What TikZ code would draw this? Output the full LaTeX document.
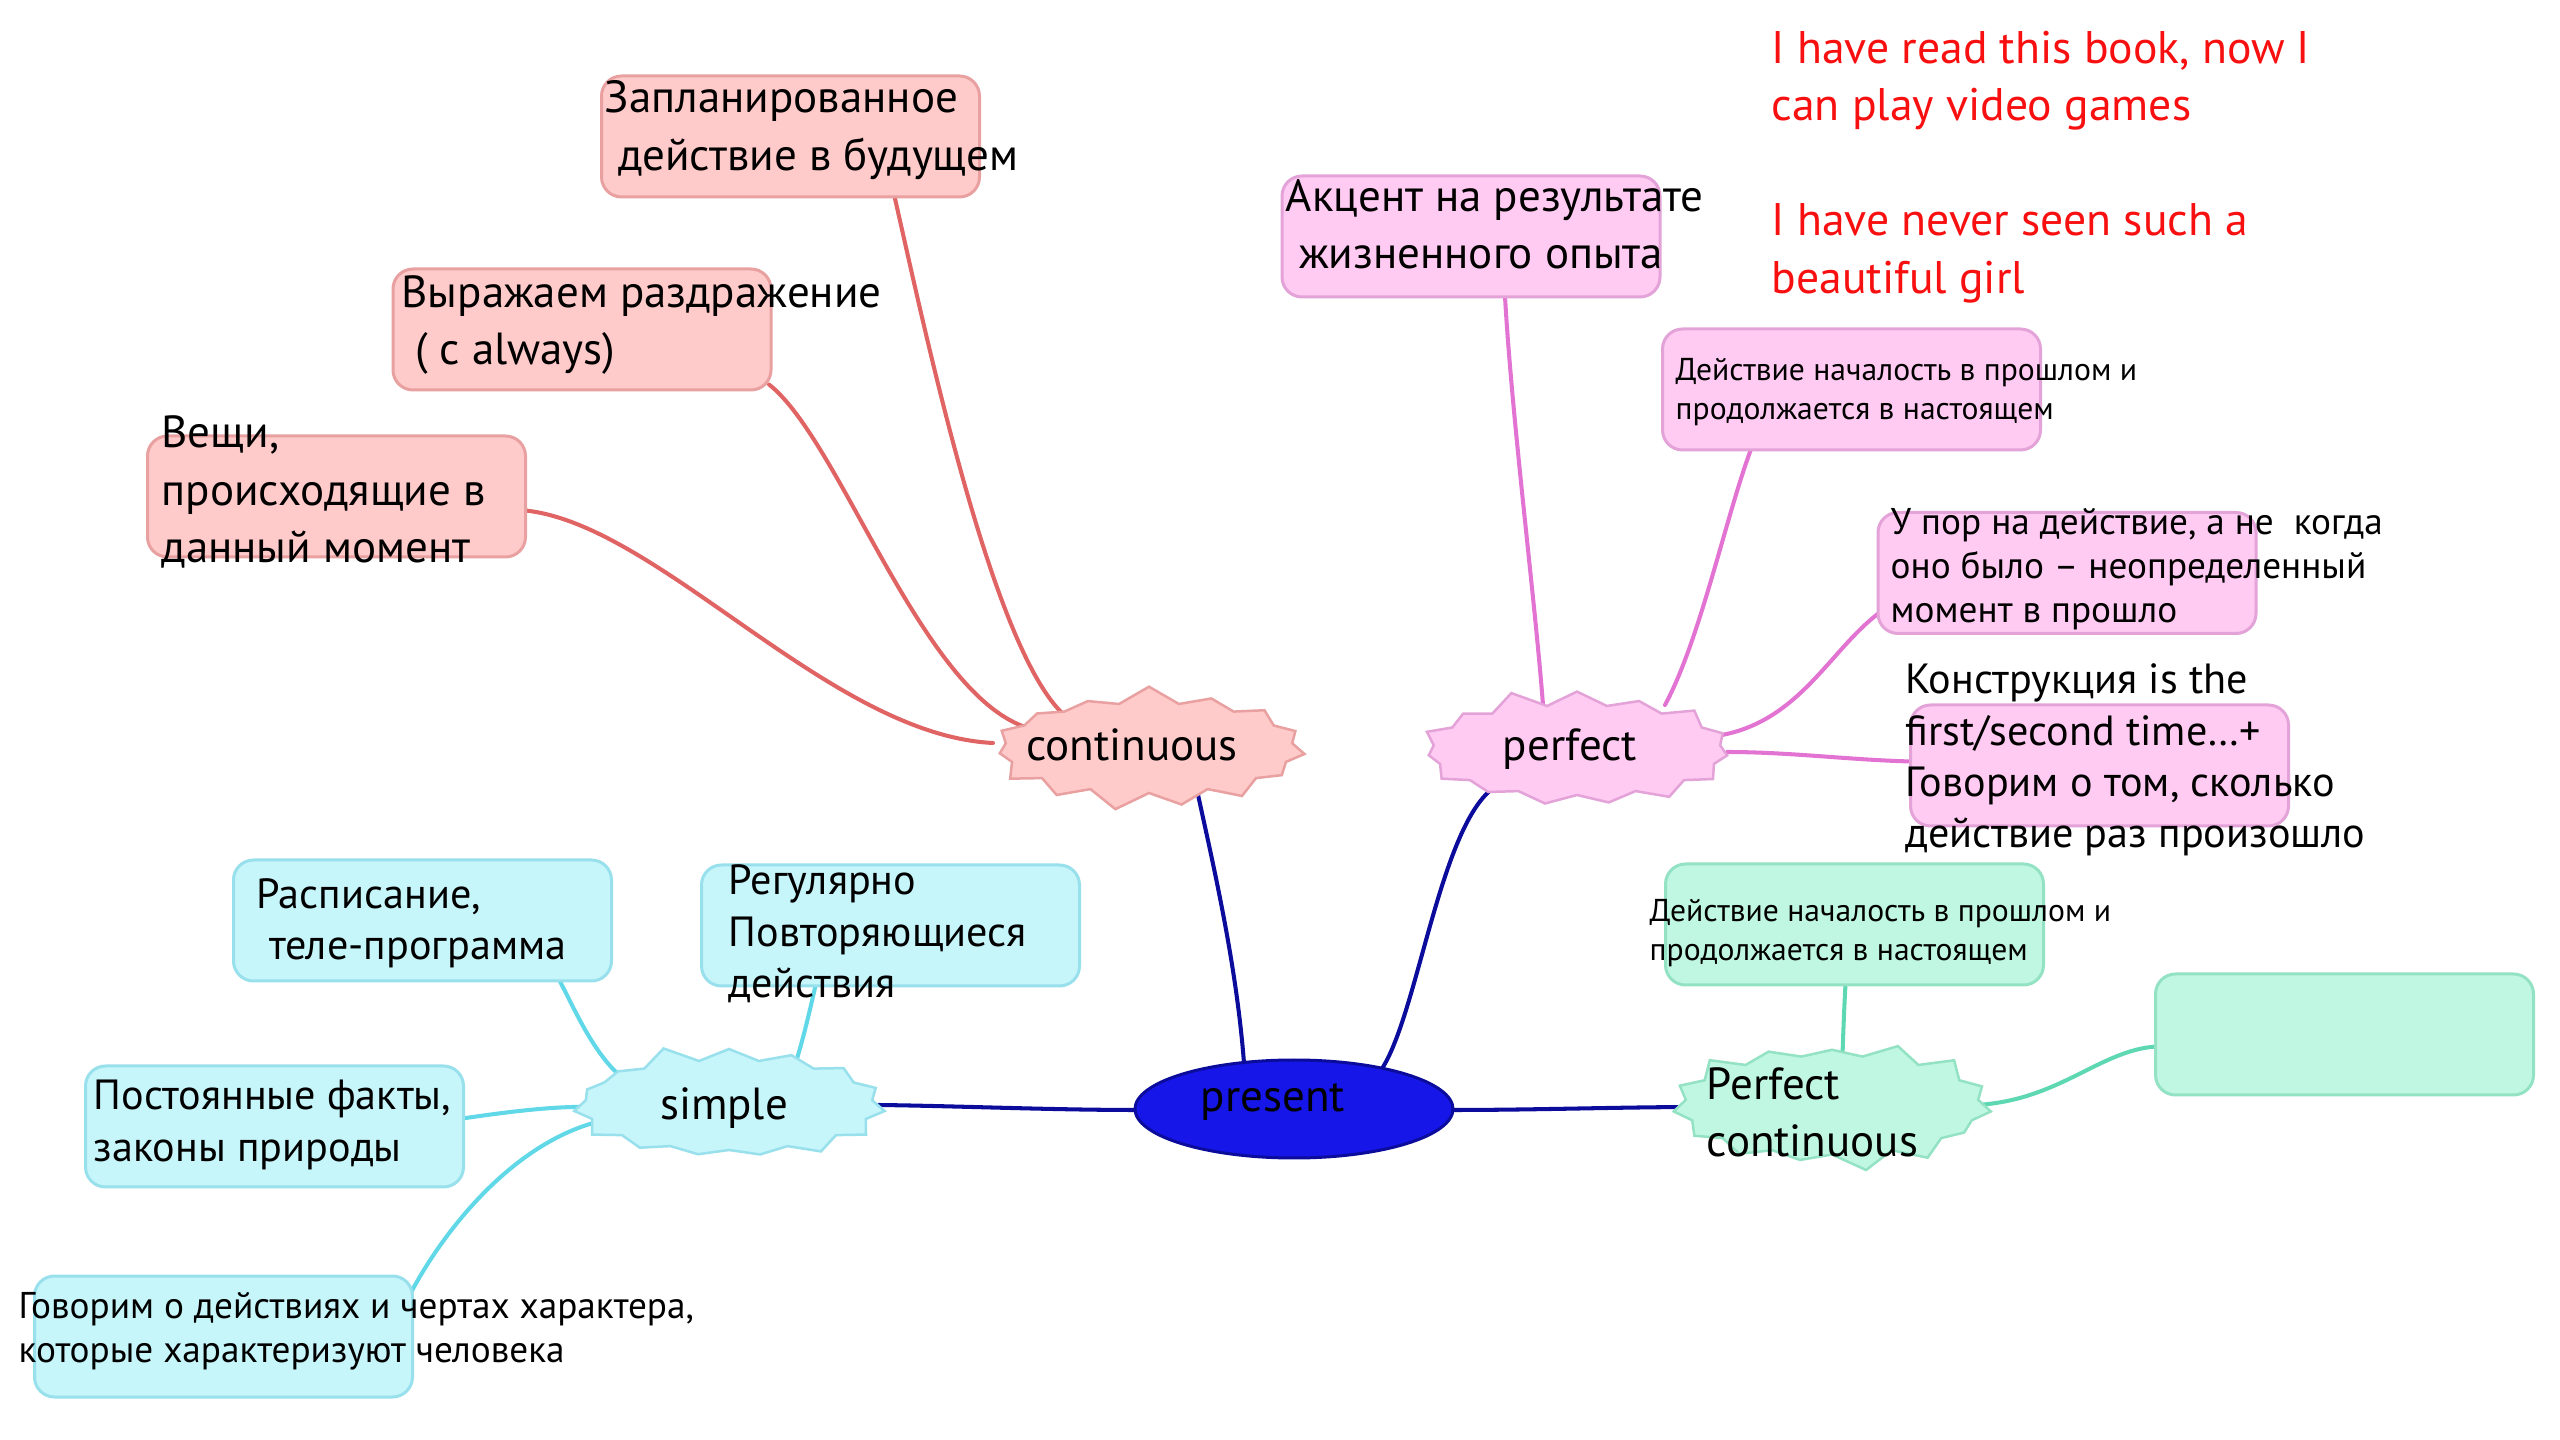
\documentclass[tikz,border=0pt]{standalone}
\usepackage{fontspec}
\setmainfont{PT Sans}
\usetikzlibrary{shapes.symbols,shapes.geometric,backgrounds,calc}
\definecolor{redfill}{HTML}{FFCACA}
\definecolor{redline}{HTML}{E8A0A0}
\definecolor{redconn}{HTML}{E06464}
\definecolor{pinkfill}{HTML}{FFCBF2}
\definecolor{pinkline}{HTML}{E3A2D8}
\definecolor{pinkconn}{HTML}{E273D2}
\definecolor{cyanfill}{HTML}{C6F5FA}
\definecolor{cyanline}{HTML}{98E0EC}
\definecolor{cyanconn}{HTML}{60D8E8}
\definecolor{greenfill}{HTML}{C0F7E2}
\definecolor{greenline}{HTML}{94E2C4}
\definecolor{greenconn}{HTML}{5ED8B2}
\definecolor{navy}{HTML}{0C0C9C}
\definecolor{presfill}{HTML}{1616E8}
\definecolor{redtext}{HTML}{F81010}
\newcommand\fBig{\fontsize{12.8}{16.3}\selectfont}
\newcommand\fMid{\fontsize{12}{14.6}\selectfont}
\newcommand\fSm{\fontsize{10.6}{12.6}\selectfont}
\newcommand\fXs{\fontsize{9}{11.1}\selectfont}
\begin{document}
\begin{tikzpicture}[x=0.1mm,y=-0.1mm,
  box/.style={draw,rounded corners=2mm,minimum width=37.8mm,minimum height=12.1mm,line width=0.3mm,inner sep=0pt},
  rbox/.style={box,fill=redfill,draw=redline},
  pbox/.style={box,fill=pinkfill,draw=pinkline},
  cbox/.style={box,fill=cyanfill,draw=cyanline},
  gbox/.style={box,fill=greenfill,draw=greenline},
  txt/.style={anchor=west,inner sep=0pt,align=left},
  burst/.style={starburst,starburst points=15,starburst point height=1.8mm,random starburst=7,
     minimum width=32.4mm,minimum height=12.6mm,inner sep=0pt,line width=0.25mm},
  conn/.style={line width=1.15pt,line cap=round}]
\useasboundingbox (0,0) rectangle (2560,1440);

% central
\node[ellipse,fill=presfill,draw=navy,line width=0.3mm,minimum width=31.8mm,minimum height=9.8mm,inner sep=0pt] (pres) at (1294,1109) {};
\node[font=\fBig,inner sep=0pt] (prest) at (1273,1102) {present};

% stars
\node[burst,fill=redfill,draw=redline] (cont) at (1149,748) {};
\node[font=\fBig,inner sep=0pt] (contt) at (1132,745) {continuous};
\node[burst,fill=pinkfill,draw=pinkline,random starburst=11] (perf) at (1577,750) {};
\node[font=\fBig,inner sep=0pt] (perft) at (1570,749) {perfect};
\node[burst,fill=cyanfill,draw=cyanline,random starburst=5] (simp) at (729,1105) {};
\node[font=\fBig,inner sep=0pt] (simpt) at (724,1108) {simple};
\node[burst,fill=greenfill,draw=greenline,random starburst=3,minimum width=33mm,minimum height=13.5mm] (pc) at (1832,1105) {};
\node[txt,font=\fBig] (pct) at (1706,1112) {Perfect\\continuous};

% red boxes
\node[rbox] (b1) at (790.5,136.5) {};
\node[txt,font=\fBig] (t1) at (604,130) {Запланированное\\\hspace{0.3em}действие в будущем};
\node[rbox] (b2) at (582,329.5) {};
\node[txt,font=\fBig] (t2) at (401,325) {Выражаем раздражение\\\hspace{0.3em}( с always)};
\node[rbox] (b3) at (336.5,496.5) {};
\node[txt,font=\fBig] (t3) at (161,492) {Вещи,\\происходящие в\\данный момент};

% pink boxes
\node[pbox] (b4) at (1471,236.5) {};
\node[txt,font=\fBig] (t4) at (1285,224) {Акцент на результате\\\hspace{0.3em}жизненного опыта};
\node[pbox] (b5) at (1851.5,389.5) {};
\node[txt,font=\fXs] (t5) at (1675,392) {Действие началость в прошлом и\\продолжается в настоящем};
\node[pbox] (b6) at (2067,573) {};
\node[txt,font=\fSm] (t6) at (1890,569) {У пор на действие, а не\ \ когда\\оно было – неопределенный\\момент в прошло};
\node[pbox] (b7) at (2099.5,765.5) {};
\node[txt,font=\fMid] (t7) at (1905,760) {Конструкция is the\\first/second time…+\\Говорим о том, сколько\\действие раз произошло};

% green boxes
\node[gbox] (b8) at (1854.5,924.5) {};
\node[txt,font=\fXs] (t8) at (1649,933) {Действие началость в прошлом и\\продолжается в настоящем};
\node[gbox] (b9) at (2344.5,1034.5) {};

% cyan boxes
\node[cbox] (b10) at (422.5,920.5) {};
\node[txt,font=\fMid] (t10) at (256,923) {Расписание,\\\hspace{0.3em}теле-программа};
\node[cbox] (b11) at (890.5,925.5) {};
\node[txt,font=\fMid] (t11) at (728,934) {Регулярно\\Повторяющиеся\\действия};
\node[cbox] (b12) at (274.5,1126.5) {};
\node[txt,font=\fMid] (t12) at (93,1125) {Постоянные факты,\\законы природы};
\node[cbox] (b13) at (223.5,1336.5) {};
\node[txt,font=\fSm] (t13) at (18,1331) {Говорим о действиях и чертах характера,\\которые характеризуют человека};

% red note
\node[txt,font=\fontsize{13}{16.4}\selectfont,text=redtext] (note) at (1771,167) {I have read this book, now I\\can play video games\\[16.4pt]I have never seen such a\\beautiful girl};

\begin{pgfonlayer}{background}
\fill[white] (0,0) rectangle (2560,1440);
% navy
\draw[conn,navy] ($(pres.center)+(-50,-46)$) .. controls (1236,960) and (1212,860) .. ($(cont.center)+(48,42)$);
\draw[conn,navy] ($(pres.center)+(89,-42)$) .. controls (1418,1010) and (1440,830) .. ($(perf.center)+(-85,39)$);
\draw[conn,navy] ($(pres.center)+(-155,1)$) .. controls (1050,1110) and (960,1106) .. ($(simp.center)+(150,0)$);
\draw[conn,navy] ($(pres.center)+(155,1)$) .. controls (1540,1110) and (1620,1107) .. ($(pc.center)+(-130,2)$);
% red
\draw[conn,redconn] ($(b1.center)+(104,60)$) .. controls (925,330) and (990,640) .. ($(cont.center)+(-88,-36)$);
\draw[conn,redconn] ($(b2.center)+(187,55)$) .. controls (840,440) and (920,690) .. ($(cont.center)+(-124,-21)$);
\draw[conn,redconn] ($(b3.center)+(189,14)$) .. controls (660,525) and (830,735) .. ($(cont.center)+(-156,-5)$);
% pink
\draw[conn,pinkconn] ($(b4.center)+(34,60)$) .. controls (1512,420) and (1535,600) .. ($(perf.center)+(-34,-45)$);
\draw[conn,pinkconn] ($(b5.center)+(-101,61)$) .. controls (1725,520) and (1700,640) .. ($(perf.center)+(88,-45)$);
\draw[conn,pinkconn] ($(b6.center)+(-188,40)$) .. controls (1830,650) and (1800,720) .. ($(perf.center)+(145,-15)$);
\draw[conn,pinkconn] ($(b7.center)+(-188,-4)$) .. controls (1850,760) and (1790,752) .. ($(perf.center)+(150,2)$);
% green
\draw[conn,greenconn] ($(b8.center)+(-9,60)$) .. controls (1844,1010) and (1843,1040) .. ($(pc.center)+(10,-35)$);
\draw[conn,greenconn] ($(b9.center)+(-188,12)$) .. controls (2100,1050) and (2060,1100) .. ($(pc.center)+(145,0)$);
% cyan
\draw[conn,cyanconn] ($(b10.center)+(137,60)$) .. controls (575,1010) and (592,1050) .. ($(simp.center)+(-110,-30)$);
\draw[conn,cyanconn] ($(b11.center)+(-75,60)$) .. controls (810,1010) and (803,1040) .. ($(simp.center)+(66,-40)$);
\draw[conn,cyanconn] ($(b12.center)+(188,-8)$) .. controls (520,1110) and (560,1106) .. ($(simp.center)+(-135,2)$);
\draw[conn,cyanconn] ($(b13.center)+(188,-45)$) .. controls (450,1220) and (520,1140) .. ($(simp.center)+(-128,16)$);
\end{pgfonlayer}
\end{tikzpicture}
\end{document}
